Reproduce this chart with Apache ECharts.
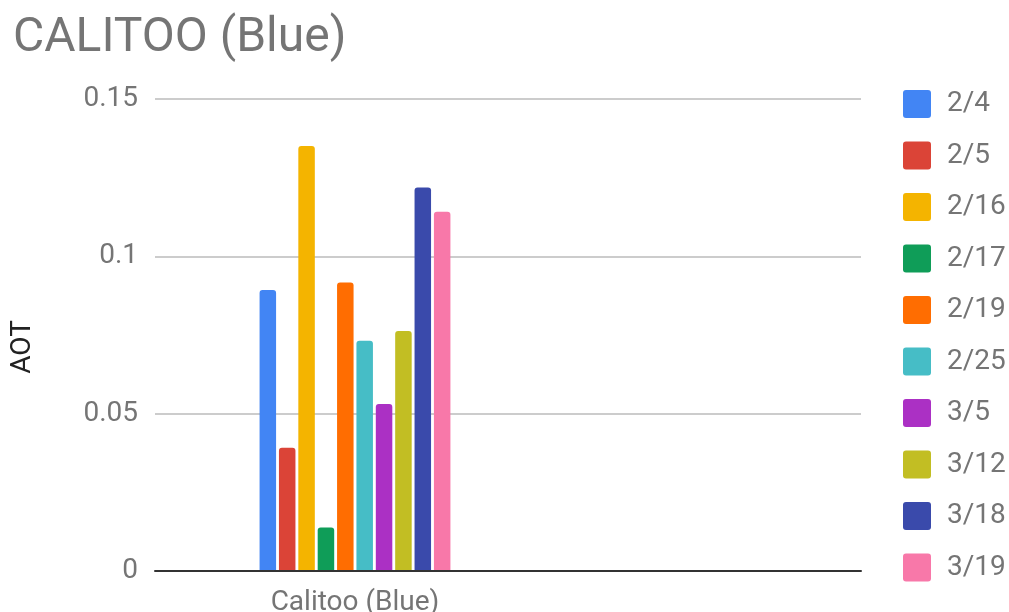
<!DOCTYPE html>
<html>
<head>
<meta charset="utf-8">
<script src="https://cdn.jsdelivr.net/npm/echarts@6/dist/echarts.min.js"></script>
<style>
  html, body { margin: 0; padding: 0; background: #fff; }
  #chart { width: 1009px; height: 612px; }
</style>
</head>
<body>
<div id="chart"></div>
<script>
// Measurement dates (legend entries)
const dates = ['2/4', '2/5', '2/16', '2/17', '2/19', '2/25', '3/5', '3/12', '3/18', '3/19'];
// Aerosol optical thickness for each date
const aotValues = [0.0893, 0.0392, 0.1351, 0.0138, 0.0917, 0.0732, 0.0531, 0.0763, 0.1219, 0.1142];
// Single category on the x axis
const categories = ['Calitoo (Blue)'];
// Y axis ticks
const yTicks = [0, 0.05, 0.1, 0.15];
const colors = ['#4285F4', '#DB4437', '#F4B400', '#0F9D58', '#FF6D01', '#46BDC6', '#AB30C4', '#C2BE23', '#3A4AAB', '#F878A9'];

const FONT = 'Roboto, "Noto Sans", sans-serif';
const GREY = '#757575';
const swatch = 'path://M3,0 H25 Q28,0 28,3 V25 Q28,28 25,28 H3 Q0,28 0,25 V3 Q0,0 3,0 Z';

const chart = echarts.init(document.getElementById('chart'), null, { renderer: 'canvas' });

const series = dates.map((d, i) => ({
  name: d,
  type: 'bar',
  xAxisIndex: 1,
  yAxisIndex: 1,
  data: [aotValues[i]],
  barWidth: 16.5,
  barGap: '17.4%',
  itemStyle: { color: colors[i], borderRadius: [3, 3, 0, 0] },
  emphasis: { disabled: true }
}));

chart.setOption({
  animation: false,
  color: colors,
  title: {
    text: 'CALITOO (Blue)',
    left: 8,
    top: 10,
    textStyle: { fontFamily: FONT, fontSize: 48, fontWeight: 'normal', color: GREY }
  },
  legend: {
    orient: 'vertical',
    left: 898,
    top: 85,
    itemWidth: 28,
    itemHeight: 28,
    itemGap: 23.5,
    icon: swatch,
    data: dates,
    textStyle: { fontFamily: FONT, fontSize: 28, color: GREY, padding: [0, 0, 0, 11], lineHeight: 28 }
  },
  grid: [
    { left: 155, right: 148, top: 99, bottom: 41, outerBoundsMode: 'none' },
    { left: 155, width: 400, top: 99, bottom: 41, outerBoundsMode: 'none' }
  ],
  xAxis: [
    {
      gridIndex: 0,
      type: 'category',
      data: [''],
      axisLine: { show: true, lineStyle: { color: '#333', width: 2 } },
      axisTick: { show: false },
      axisLabel: { show: false },
      z: 5
    },
    {
      gridIndex: 1,
      type: 'category',
      data: categories,
      axisLine: { show: false },
      axisTick: { show: false },
      axisLabel: { fontFamily: FONT, fontSize: 28, color: GREY, margin: 18 }
    }
  ],
  yAxis: [
    {
      gridIndex: 0,
      type: 'value',
      min: yTicks[0],
      max: yTicks[yTicks.length - 1],
      interval: 0.05,
      name: 'AOT',
      nameLocation: 'middle',
      nameGap: 118,
      nameTextStyle: { fontFamily: FONT, fontSize: 28, color: '#222', padding: [0, 24, 0, 0] },
      axisLine: { show: false },
      axisTick: { show: false },
      axisLabel: { fontFamily: FONT, fontSize: 28, color: GREY, margin: 17 },
      splitLine: { lineStyle: { color: '#cccccc', width: 2 } }
    },
    {
      gridIndex: 1,
      type: 'value',
      min: yTicks[0],
      max: yTicks[yTicks.length - 1],
      show: false,
      splitLine: { show: false }
    }
  ],
  series: series
});
</script>
</body>
</html>
